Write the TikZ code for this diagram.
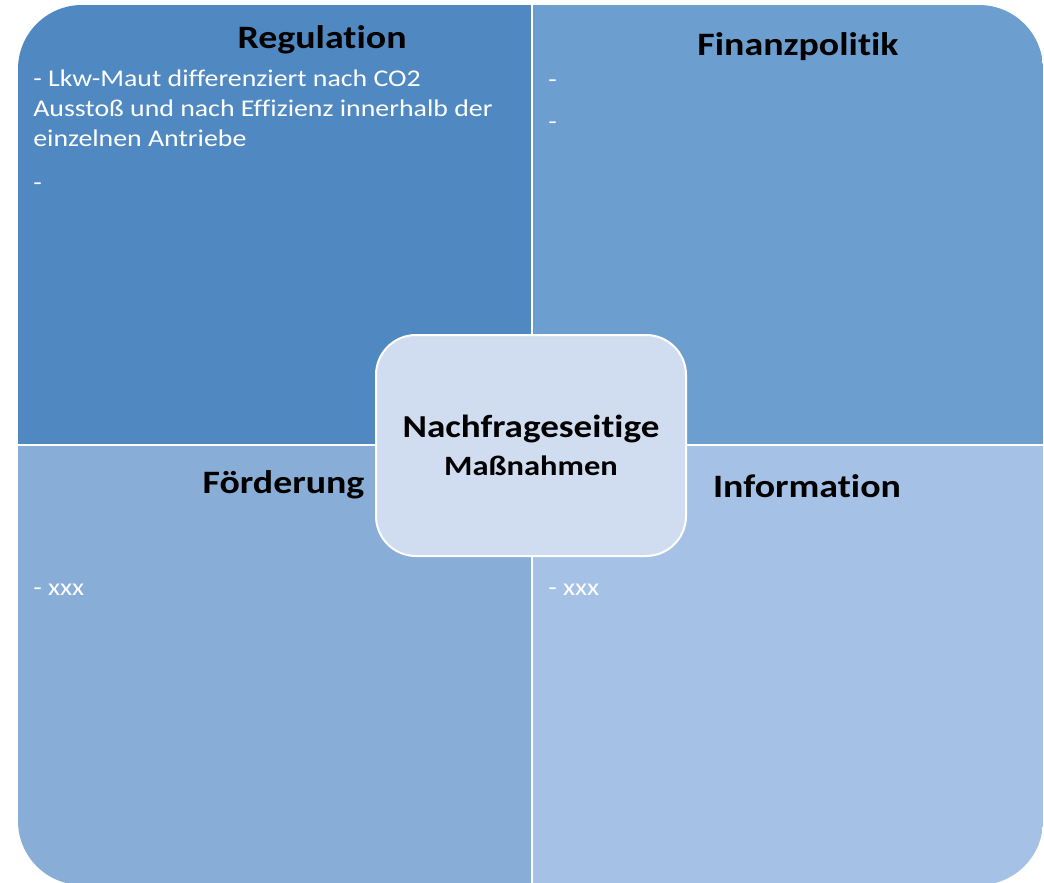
\documentclass[tikz,border=0pt]{standalone}
\usepackage{fontspec}
\setmainfont{Carlito}[FakeStretch=1.16, Ligatures=CommonOff]

\definecolor{regulation}{HTML}{5089C2}
\definecolor{finanz}{HTML}{6C9ECF}
\definecolor{foerder}{HTML}{88ADD7}
\definecolor{info}{HTML}{A5C1E5}
\definecolor{kernfarbe}{HTML}{D0DCEF}

\tikzset{
	titel/.style  = {anchor=base, inner sep=0, font=\bfseries\fontsize{24.5}{29}\selectfont},
	punkte/.style = {anchor=base west, inner sep=0, align=left, text=white,
	                 font=\fontsize{18}{22.3}\selectfont},
	kern/.style   = {fill=kernfarbe, draw=white, line width=1.5pt, rounded corners=30pt,
	                 minimum width=232.5pt, minimum height=165.75pt, align=center,
	                 font=\bfseries\fontsize{24}{28.5}\selectfont},
}

\begin{document}
	\begin{tikzpicture}[x=0.75pt, y=-0.75pt]
	\useasboundingbox (0,0) rectangle (1044,882);
	\begin{scope}
	\clip[rounded corners=48pt] (18,5) rectangle (1043,885);
	\fill[regulation] (18,5)     rectangle (530.5,443.5);
	\fill[finanz]     (533,5)    rectangle (1043,443.5);
	\fill[foerder]    (18,446)   rectangle (530.5,885);
	\fill[info]       (533,446)  rectangle (1043,885);
	\end{scope}
	\node (reg)  at (322,48)    [titel] {Regulation};
	\node (fin)  at (798,55)    [titel] {Finanzpolitik};
	\node (foe)  at (283.5,493) [titel] {Förderung};
	\node (inf)  at (807,497)   [titel] {Information};
	% die Basislinie ist die der letzten Zeile
	\node (regp) at (33,190)    [punkte] {
		- Lkw-Maut differenziert nach CO2\\
		Ausstoß und nach Effizienz innerhalb der\\
		einzelnen Antriebe\\[10.7pt]
		-
	};
	\node (finp) at (548,129)   [punkte] {
		-\\[9.2pt]
		-
	};
	\node (foep) at (33,595)    [punkte] {- xxx};
	\node (infp) at (548,595)   [punkte] {- xxx};
	\node (mass) at (531,445.5) [kern] {
		Nachfrageseitige\\
		{\fontsize{21}{25}\selectfont Maßnahmen}
	};
	\end{tikzpicture}
\end{document}
